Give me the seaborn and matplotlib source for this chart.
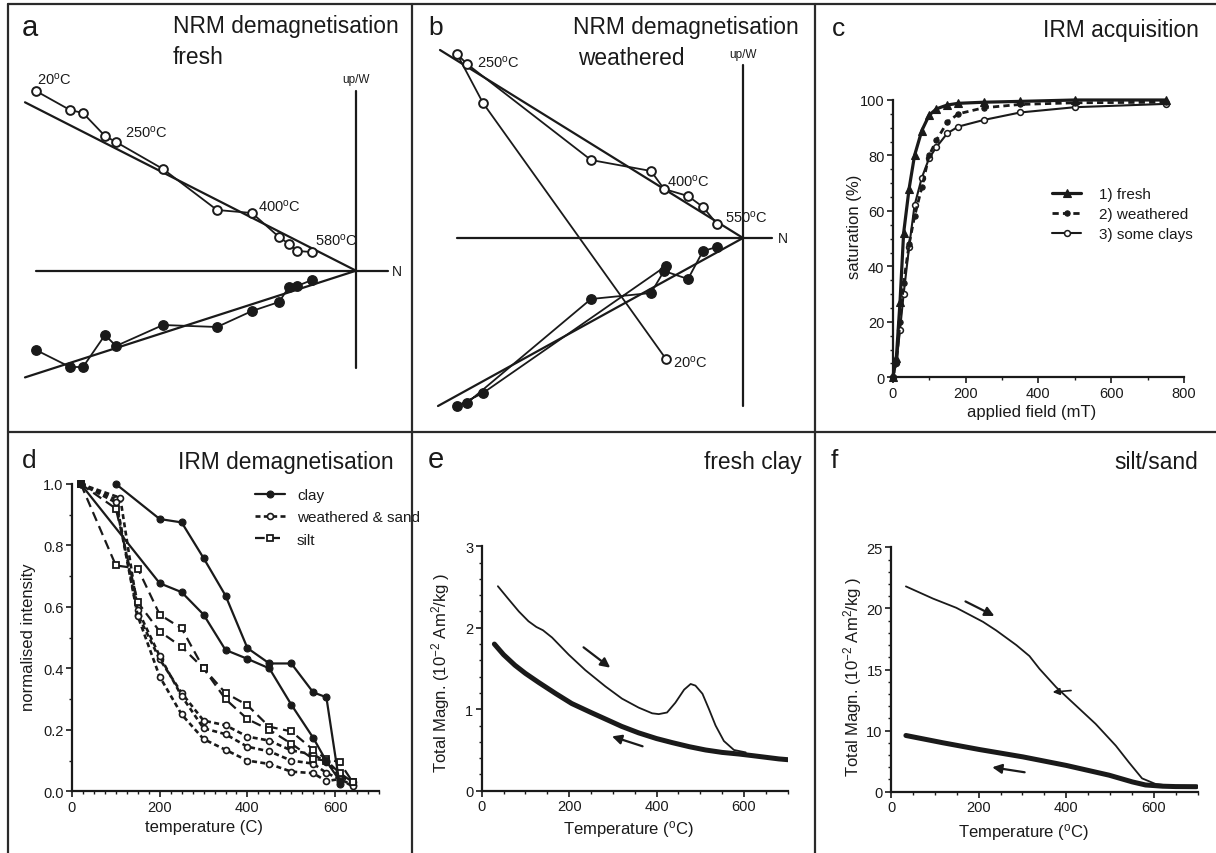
import matplotlib
matplotlib.use("Agg")
import matplotlib.pyplot as plt
from matplotlib.lines import Line2D
from matplotlib.ticker import MultipleLocator, FixedLocator, FixedFormatter
import seaborn as sns

# ---------------- data ----------------
# a: NRM demagnetisation, fresh (Zijderveld; N component, vertical=open, horizontal=filled)
A_N = [-32.0, -28.6, -27.3, -25.1, -24.0, -19.3, -13.9, -10.4, -7.7, -6.7, -5.9, -4.4]
A_UP = [17.97, 16.07, 15.77, 13.47, 12.87, 10.17, 6.07, 5.77, 3.37, 2.67, 1.97, 1.87]
A_E = [-7.93, -9.63, -9.63, -6.43, -7.53, -5.43, -5.63, -4.03, -3.13, -1.63, -1.53, -0.93]
A_FIT_N = [-33.1, 0.0]
A_FIT_UP = [16.84, 0.0]
A_FIT_E = [-10.67, 0.0]
A_AXIS_N = [-32.0, 3.2]
A_AXIS_V = [-9.7, 18.0]
A_TEMPS = ["20", "250", "400", "580"]
A_TEMP_N = [-31.9, -23.1, -9.8, -4.1]
A_TEMP_V = [19.2, 13.9, 6.5, 3.1]

# b: NRM demagnetisation, weathered
B_N = [-7.7, -26.0, -28.6, -27.6, -15.2, -9.2, -7.9, -5.5, -4.0, -2.6]
B_UP = [-12.1, 13.5, 18.4, 17.4, 7.8, 6.7, 4.9, 4.2, 3.1, 1.4]
B_E = [-2.8, -15.5, -16.8, -16.5, -6.1, -5.5, -3.3, -4.1, -1.3, -0.9]
B_FIT_UP_N = [-30.3, 0.0]
B_FIT_UP = [18.8, 0.0]
B_FIT_E_N = [-30.5, 0.0]
B_FIT_E = [-16.8, 0.0]
B_AXIS_N = [-28.6, 2.9]
B_AXIS_V = [-16.8, 17.3]
B_TEMPS = ["250", "400", "550", "20"]
B_TEMP_N = [-26.6, -7.6, -1.8, -7.0]
B_TEMP_V = [17.6, 5.7, 2.1, -12.4]

# c: IRM acquisition
C_FIELD = [0, 10, 20, 30, 45, 60, 80, 100, 120, 150, 180, 250, 350, 500, 750]
C_FRESH = [0, 7, 27, 52, 68, 80, 89, 94.5, 96.8, 98.2, 98.8, 99.2, 99.5, 100, 100]
C_WEATH = [0, 5, 20, 34, 48, 58, 68.5, 80, 85.5, 92, 95, 97.2, 98.4, 99, 99.2]
C_CLAYS = [0, 5, 17, 30, 47, 62, 72, 79, 83, 88, 90.4, 92.8, 95.5, 97.4, 98.6]
C_LABELS = ["1) fresh", "2) weathered", "3) some clays"]

# d: IRM demagnetisation
D_T_CLAY1 = [100, 200, 250, 300, 350, 400, 450, 500, 550, 580, 610]
D_CLAY1 = [1.0, 0.886, 0.875, 0.759, 0.637, 0.466, 0.416, 0.416, 0.322, 0.306, 0.024]
D_T_CLAY2 = [20, 200, 250, 300, 350, 400, 450, 500, 550, 580, 610]
D_CLAY2 = [1.0, 0.677, 0.648, 0.575, 0.46, 0.431, 0.40, 0.282, 0.174, 0.098, 0.035]
D_T_W = [20, 100, 150, 200, 250, 300, 350, 400, 450, 500, 550, 580, 610, 640]
D_T_W2 = [20, 110, 150, 200, 250, 300, 350, 400, 450, 500, 550, 580, 610, 640]
D_W1 = [1.0, 0.95, 0.575, 0.43, 0.32, 0.23, 0.215, 0.178, 0.165, 0.133, 0.12, 0.095, 0.05, 0.03]
D_W2 = [1.0, 0.955, 0.59, 0.44, 0.31, 0.205, 0.186, 0.145, 0.13, 0.10, 0.09, 0.06, 0.04, 0.02]
D_W3 = [1.0, 0.94, 0.57, 0.373, 0.25, 0.17, 0.135, 0.10, 0.089, 0.064, 0.059, 0.033, 0.04, 0.016]
D_T_S = [20, 100, 150, 200, 250, 300, 350, 400, 450, 500, 550, 580, 610, 640]
D_S1 = [1.0, 0.735, 0.725, 0.575, 0.53, 0.40, 0.32, 0.28, 0.21, 0.195, 0.135, 0.105, 0.095, 0.03]
D_S2 = [1.0, 0.92, 0.615, 0.52, 0.47, 0.40, 0.30, 0.235, 0.20, 0.155, 0.105, 0.10, 0.06, 0.03]
D_LABELS = ["clay", "weathered & sand", "silt"]

# e: thermomagnetic curve, fresh clay
E_HEAT_T = [37, 60, 85, 107, 125, 140, 161, 199, 237, 283, 321, 359, 390, 405, 424, 443,
            463, 478, 489, 505, 520, 535, 554, 577, 604]
E_HEAT_M = [2.51, 2.36, 2.20, 2.08, 2.01, 1.97, 1.88, 1.67, 1.48, 1.28, 1.13, 1.02, 0.95,
            0.94, 0.96, 1.08, 1.24, 1.31, 1.29, 1.19, 1.0, 0.80, 0.61, 0.50, 0.47]
E_COOL_T = [702, 680, 650, 620, 589, 550, 512, 475, 436, 400, 359, 320, 283, 250, 206, 170,
            130, 100, 76, 50, 29]
E_COOL_M = [0.38, 0.39, 0.41, 0.43, 0.45, 0.47, 0.50, 0.54, 0.59, 0.64, 0.71, 0.79, 0.88,
            0.96, 1.07, 1.19, 1.33, 1.44, 1.54, 1.67, 1.80]

# f: thermomagnetic curve, silt/sand (values in plotted axis units)
F_HEAT_T = [34, 96, 149, 210, 240, 286, 316, 339, 377, 422, 467, 513, 543, 573, 604, 649, 695]
F_HEAT_M = [16.8, 15.8, 15.05, 13.9, 13.2, 12.0, 11.1, 10.05, 8.55, 7.05, 5.55, 3.77, 2.4,
            1.09, 0.63, 0.44, 0.36]
F_COOL_T = [697, 649, 620, 581, 551, 498, 400, 301, 202, 119, 34]
F_COOL_M = [0.41, 0.42, 0.45, 0.55, 0.8, 1.35, 2.15, 2.85, 3.45, 4.0, 4.6]
F_YTICKS = [0, 5, 10, 15, 20]
F_YTICKLABELS = ["0", "10", "15", "20", "25"]

# ---------------- style ----------------
sns.set_style("ticks")
INK = "#1a1a1a"
FRAME = "#2a2a2a"
plt.rcParams.update({
    "font.family": ["Liberation Sans", "DejaVu Sans"],
    "mathtext.fontset": "custom",
    "mathtext.rm": "Liberation Sans",
    "mathtext.it": "Liberation Sans:italic",
    "mathtext.bf": "Liberation Sans:bold",
    "mathtext.default": "regular",
    "lines.scale_dashes": False,
    "axes.edgecolor": INK,
    "xtick.color": INK,
    "ytick.color": INK,
    "text.color": INK,
    "axes.labelcolor": INK,
})

W, H = 1216, 854
fig = plt.figure(figsize=(W / 100, H / 100), dpi=100)
fig.patch.set_facecolor("white")


def rect(x0, y0, x1, y1):
    return [x0 / W, 1 - y1 / H, (x1 - x0) / W, (y1 - y0) / H]


def ftext(x, y, s, size, ha="left", va="baseline", **kw):
    fig.text(x / W, 1 - y / H, s, fontsize=size, ha=ha, va=va, color=INK, **kw)


# panel frame lines
for (x0, y0, x1, y1) in [(8, 5, W, 5), (8, 5, 8, H), (412, 5, 412, H), (815, 5, 815, H),
                         (8, 432.5, W, 432.5)]:
    fig.add_artist(Line2D([x0 / W, x1 / W], [1 - y0 / H, 1 - y1 / H],
                          transform=fig.transFigure, color=FRAME, lw=1.6))


def zijder_axes(box, origin, scale=10.0):
    x0, y0, x1, y1 = box
    ax = fig.add_axes(rect(x0, y0, x1, y1))
    ax.set_xlim((x0 - origin[0]) / scale, (x1 - origin[0]) / scale)
    ax.set_ylim((origin[1] - y1) / scale, (origin[1] - y0) / scale)
    ax.set_axis_off()
    return ax


open_kw = dict(color=INK, linewidth=1.3, marker="o", markersize=6.3,
               markerfacecolor="white", markeredgecolor=INK, markeredgewidth=1.4)
fill_kw = dict(color=INK, linewidth=1.3, marker="o", markersize=6.8,
               markerfacecolor=INK, markeredgecolor=INK, markeredgewidth=1.0)
deg = "$^{o}$C"

# ---- a ----
ax_a = zijder_axes((10, 8, 405, 428), (356, 271.7))
ax_a.plot(A_AXIS_N, [0, 0], color=INK, lw=1.6)
ax_a.plot([0, 0], A_AXIS_V, color=INK, lw=1.6)
ax_a.plot(A_FIT_N, A_FIT_UP, color=INK, lw=1.6)
ax_a.plot(A_FIT_N, A_FIT_E, color=INK, lw=1.6)
sns.lineplot(x=A_N, y=A_UP, sort=False, estimator=None, ax=ax_a, **open_kw)
sns.lineplot(x=A_N, y=A_E, sort=False, estimator=None, ax=ax_a, **fill_kw)
for t, xn, yv in zip(A_TEMPS, A_TEMP_N, A_TEMP_V):
    ax_a.text(xn, yv, t + deg, fontsize=10.5, ha="left", va="center")
ax_a.text(4.1, 0, "N", fontsize=10, ha="center", va="center")
ax_a.text(0, 19.2, "up/W", fontsize=8.5, ha="center", va="center")

# ---- b ----
ax_b = zijder_axes((415, 8, 810, 428), (743, 239))
ax_b.plot(B_AXIS_N, [0, 0], color=INK, lw=1.6)
ax_b.plot([0, 0], B_AXIS_V, color=INK, lw=1.6)
ax_b.plot(B_FIT_UP_N, B_FIT_UP, color=INK, lw=1.6)
ax_b.plot(B_FIT_E_N, B_FIT_E, color=INK, lw=1.6)
sns.lineplot(x=B_N, y=B_UP, sort=False, estimator=None, ax=ax_b, **open_kw)
sns.lineplot(x=B_N, y=B_E, sort=False, estimator=None, ax=ax_b, **fill_kw)
for t, xn, yv in zip(B_TEMPS, B_TEMP_N, B_TEMP_V):
    ax_b.text(xn, yv, t + deg, fontsize=10.5, ha="left", va="center")
ax_b.text(4.0, 0, "N", fontsize=10, ha="center", va="center")
ax_b.text(0, 18.4, "up/W", fontsize=8.5, ha="center", va="center")


def style_axes(ax, box, xmaj, xmin, ymaj, ymin):
    sns.despine(ax=ax)
    for s in ("left", "bottom"):
        ax.spines[s].set_linewidth(1.6)
    ax.xaxis.set_major_locator(MultipleLocator(xmaj))
    ax.xaxis.set_minor_locator(MultipleLocator(xmin))
    if ymaj is not None:
        ax.yaxis.set_major_locator(MultipleLocator(ymaj))
    ax.yaxis.set_minor_locator(MultipleLocator(ymin))
    ax.tick_params(which="major", direction="out", length=4, width=1.2, labelsize=10.5, pad=2)
    ax.tick_params(which="minor", direction="out", length=2.3, width=1.0)
    ax.set_facecolor("none")


def place_labels(ax, box, xl, xpos, yl, ypos, size=12):
    x0, y0, x1, y1 = box
    ax.set_xlabel(xl, fontsize=size, va="center", ha="center")
    ax.set_ylabel(yl, fontsize=size, va="center", ha="center")
    ax.xaxis.set_label_coords((xpos[0] - x0) / (x1 - x0), (y1 - xpos[1]) / (y1 - y0))
    ax.yaxis.set_label_coords((ypos[0] - x0) / (x1 - x0), (y1 - ypos[1]) / (y1 - y0))


# ---- c ----
box_c = (892.7, 101, 1184, 378.3)
ax_c = fig.add_axes(rect(*box_c))
sns.lineplot(x=C_FIELD, y=C_CLAYS, ax=ax_c, color=INK, linewidth=1.5, marker="o",
             markersize=4.2, markerfacecolor="white", markeredgecolor=INK,
             markeredgewidth=1.1, clip_on=False, label=C_LABELS[2])
sns.lineplot(x=C_FIELD, y=C_WEATH, ax=ax_c, color=INK, linewidth=2.0,
             linestyle=(0, (4.5, 3)), marker="o", markersize=3.8, markerfacecolor=INK,
             markeredgecolor=INK, markeredgewidth=0.8, clip_on=False, label=C_LABELS[1])
sns.lineplot(x=C_FIELD, y=C_FRESH, ax=ax_c, color=INK, linewidth=2.3, marker="^",
             markersize=5.5, markerfacecolor=INK, markeredgecolor=INK,
             markeredgewidth=0.8, clip_on=False, label=C_LABELS[0])
ax_c.set_xlim(0, 800)
ax_c.set_ylim(0, 100)
style_axes(ax_c, box_c, 200, 100, 20, 5)
place_labels(ax_c, box_c, "applied field (mT)", (1032, 413), "saturation (%)", (855, 227))
hc, lc = ax_c.get_legend_handles_labels()
order = [lc.index(l) for l in C_LABELS]
ax_c.legend([hc[i] for i in order], [lc[i] for i in order], loc="upper left",
            bbox_to_anchor=(1051.7 / W, 1 - 188 / H), bbox_transform=fig.transFigure,
            frameon=False, fontsize=11, handlelength=1.95, handletextpad=1.15,
            labelspacing=0.4, borderpad=0, borderaxespad=0)

# ---- d ----
box_d = (72, 485, 379, 792.3)
ax_d = fig.add_axes(rect(*box_d))
clay_kw = dict(color=INK, linewidth=1.6, marker="o", markersize=5, markerfacecolor=INK,
               markeredgecolor=INK, markeredgewidth=0.8, clip_on=False)
w_kw = dict(color=INK, linewidth=1.9, linestyle=(0, (3.6, 2.4)), marker="o", markersize=4.3,
            markerfacecolor="white", markeredgecolor=INK, markeredgewidth=1.2, clip_on=False)
s_kw = dict(color=INK, linewidth=1.6, linestyle=(0, (7, 4)), marker="s", markersize=5,
            markerfacecolor="white", markeredgecolor=INK, markeredgewidth=1.3, clip_on=False)
for i, (t, y) in enumerate([(D_T_W, D_W1), (D_T_W2, D_W2), (D_T_W, D_W3)]):
    sns.lineplot(x=t, y=y, ax=ax_d, label=D_LABELS[1] if i == 0 else None, **w_kw)
for i, y in enumerate([D_S1, D_S2]):
    sns.lineplot(x=D_T_S, y=y, ax=ax_d, label=D_LABELS[2] if i == 0 else None, **s_kw)
sns.lineplot(x=D_T_CLAY1, y=D_CLAY1, ax=ax_d, label=D_LABELS[0], **clay_kw)
sns.lineplot(x=D_T_CLAY2, y=D_CLAY2, ax=ax_d, **clay_kw)
ax_d.set_xlim(0, 700)
ax_d.set_ylim(0, 1.0)
style_axes(ax_d, box_d, 200, 25, 0.2, 0.1)
ax_d.yaxis.set_major_formatter(matplotlib.ticker.FormatStrFormatter("%.1f"))
place_labels(ax_d, box_d, "temperature (C)", (204, 828), "normalised intensity", (29, 637))
hd, ld = ax_d.get_legend_handles_labels()
order = [ld.index(l) for l in D_LABELS]
leg = ax_d.legend([hd[i] for i in order], [ld[i] for i in order], loc="upper left",
                  bbox_to_anchor=(255 / W, 1 - 489 / H), bbox_transform=fig.transFigure,
                  frameon=False, fontsize=11, handlelength=1.95, handletextpad=0.8,
                  labelspacing=0.55, borderpad=0, borderaxespad=0)

# ---- e ----
box_e = (481.7, 547.3, 787.7, 791.7)
ax_e = fig.add_axes(rect(*box_e))
sns.lineplot(x=E_COOL_T, y=E_COOL_M, sort=False, estimator=None, ax=ax_e, color=INK,
             linewidth=3.6, solid_capstyle="round", solid_joinstyle="round")
sns.lineplot(x=E_HEAT_T, y=E_HEAT_M, sort=False, estimator=None, ax=ax_e, color=INK,
             linewidth=1.3, solid_joinstyle="round")
ax_e.set_xlim(0, 700)
ax_e.set_ylim(0, 3)
style_axes(ax_e, box_e, 200, 50, 1, 0.2)
ax_e.set_xticks([0, 200, 400, 600])
ylab = "Total Magn. (10$^{-2}$ Am$^{2}$/kg )"
place_labels(ax_e, box_e, "Temperature (" + deg + ")", (628, 830), ylab, (441, 673))
arr = dict(arrowstyle="-|>", color=INK, lw=1.6, mutation_scale=14, shrinkA=0, shrinkB=0)
ax_e.annotate("", xy=(294, 1.51), xytext=(233, 1.76), arrowprops=arr)
ax_e.annotate("", xy=(298, 0.667), xytext=(368, 0.545), arrowprops=arr)

# ---- f ----
box_f = (891, 548.3, 1197.7, 792.7)
ax_f = fig.add_axes(rect(*box_f))
sns.lineplot(x=F_COOL_T, y=F_COOL_M, sort=False, estimator=None, ax=ax_f, color=INK,
             linewidth=3.6, solid_capstyle="round", solid_joinstyle="round")
sns.lineplot(x=F_HEAT_T, y=F_HEAT_M, sort=False, estimator=None, ax=ax_f, color=INK,
             linewidth=1.3, solid_joinstyle="round")
ax_f.set_xlim(0, 700)
ax_f.set_ylim(0, 20)
style_axes(ax_f, box_f, 200, 50, None, 1)
ax_f.set_xticks([0, 200, 400, 600])
ax_f.yaxis.set_major_locator(FixedLocator(F_YTICKS))
ax_f.yaxis.set_major_formatter(FixedFormatter(F_YTICKLABELS))
place_labels(ax_f, box_f, "Temperature (" + deg + ")", (1023, 833), ylab, (853, 677))
ax_f.annotate("", xy=(236, 14.38), xytext=(170, 15.57), arrowprops=arr)
ax_f.annotate("", xy=(231, 2.0), xytext=(305, 1.59), arrowprops=arr)
ax_f.annotate("", xy=(369, 8.15), xytext=(411, 8.28),
              arrowprops=dict(arrowstyle="-|>", color=INK, lw=1.2, mutation_scale=10,
                              shrinkA=0, shrinkB=0))

# ---- panel letters and titles ----
ftext(22, 36, "a", 21)
ftext(173, 33.3, "NRM demagnetisation", 16.4)
ftext(173, 64, "fresh", 16.4)
ftext(428, 35, "b", 19)
ftext(573, 34.3, "NRM demagnetisation", 16.4)
ftext(578, 65, "weathered", 16.4)
ftext(832, 36, "c", 19)
ftext(1199, 36.7, "IRM acquisition", 16.4, ha="right")
ftext(22, 468.3, "d", 19)
ftext(394, 469.3, "IRM demagnetisation", 16.4, ha="right")
ftext(428, 468.3, "e", 21)
ftext(802, 469.3, "fresh clay", 16.4, ha="right")
ftext(831, 468.3, "f", 19)
ftext(1198, 469, "silt/sand", 16.4, ha="right")

fig.savefig("out.png", dpi=100, facecolor="white")
